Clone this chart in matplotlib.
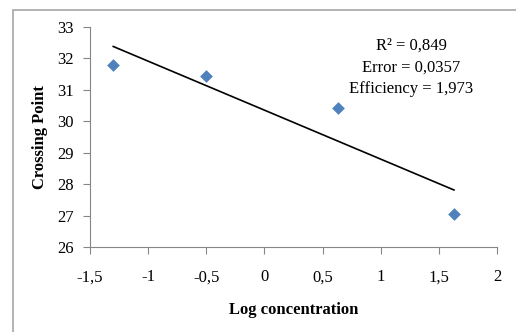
import matplotlib.pyplot as plt
from matplotlib.patches import Rectangle
from matplotlib.ticker import FuncFormatter
import numpy as np

# data
log_conc = [-1.30, -0.50, 0.63, 1.63]
crossing_point = [31.80, 31.44, 30.42, 27.04]
stats_text = ["R² = 0,849", "Error = 0,0357", "Efficiency = 1,973"]

plt.rcParams['font.family'] = ['Liberation Serif', 'DejaVu Serif']
plt.rcParams['font.size'] = 12

fig = plt.figure(figsize=(5.16, 3.32), dpi=100)
ax = fig.add_axes([90/516, 1-247/332, (497-90)/516, (247-27)/332])

# outer chart border (cut off at right and bottom)
fig.patches.append(Rectangle((13/516, -0.1), 1.2, 1-10/332+0.1, transform=fig.transFigure,
                             fill=False, edgecolor='#a6a6a6', lw=1.2))

ax.scatter(log_conc, crossing_point, marker='D', s=42, color='#4f81bd', zorder=3, linewidths=0)

# linear trend line
slope, intercept = np.polyfit(log_conc, crossing_point, 1)
xs = np.array([min(log_conc), max(log_conc)])
ax.plot(xs, slope*xs + intercept, color='black', lw=1.2)

ax.set_xlim(-1.5, 2)
ax.set_ylim(26, 33)
ax.set_xticks(np.arange(-1.5, 2.01, 0.5))
ax.set_yticks(range(26, 34))
fmt = FuncFormatter(lambda v, p: ('%g' % v).replace('.', ','))
ax.xaxis.set_major_formatter(fmt)

for s in ['top', 'right']:
    ax.spines[s].set_visible(False)
for s in ['left', 'bottom']:
    ax.spines[s].set_color('#868686')
ax.tick_params(direction='out', length=5, color='#868686', labelsize=12)
ax.tick_params(axis='x', pad=11)
ax.tick_params(axis='y', pad=6.5)

ax.set_xlabel('Log concentration', fontweight='bold', labelpad=12)
ax.set_ylabel('Crossing Point', fontweight='bold', labelpad=7)

for i, t in enumerate(stats_text):
    fig.text(411/516, 1-(46+21.5*i)/332, t, ha='center', va='center', fontsize=12)

fig.savefig('out.png', dpi=100)
